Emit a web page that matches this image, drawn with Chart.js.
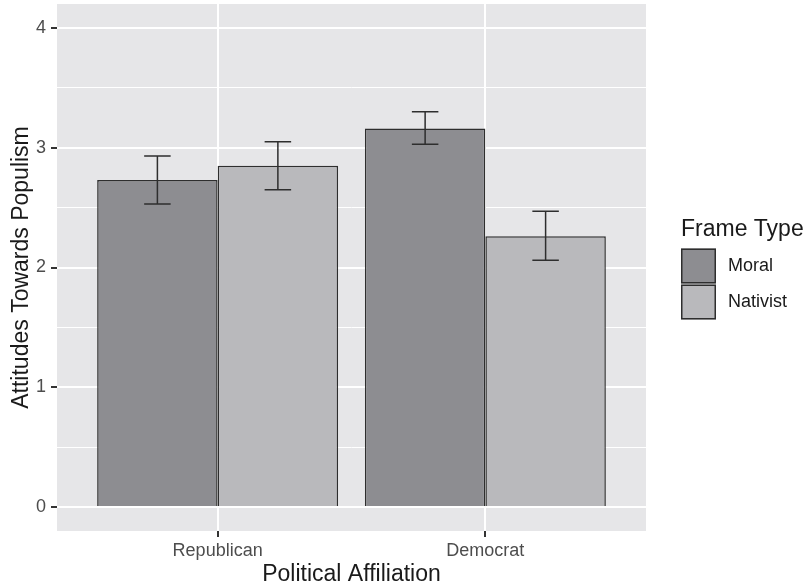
<!DOCTYPE html>
<html>
<head>
<meta charset="utf-8">
<script src="https://cdn.jsdelivr.net/npm/chart.js@4.4.0/dist/chart.umd.min.js"></script>
<style>
  html, body { margin: 0; padding: 0; background: #fff; }
  #wrap { width: 806px; height: 586px; }
</style>
</head>
<body>
<div id="wrap"><canvas id="barChart" width="806" height="586"></canvas></div>
<script>
// Data
const categories = ['Republican', 'Democrat'];
const frameTypes = ['Moral', 'Nativist'];
const moralMeans = [2.73, 3.16];
const moralLower = [2.53, 3.03];
const moralUpper = [2.93, 3.30];
const nativistMeans = [2.85, 2.26];
const nativistLower = [2.65, 2.06];
const nativistUpper = [3.05, 2.47];
const yTicks = [0, 0.5, 1, 1.5, 2, 2.5, 3, 3.5, 4];

const FONT = '"Liberation Sans", Arial, Helvetica, sans-serif';
const panelBg = '#E6E6E8';
const fills = ['#8D8D91', '#B9B9BC'];
const edge = '#2E2E2E';

const toPoints = arr => arr.map((v, i) => ({ x: i + 1, y: v }));

// grey ggplot panel behind the grid
const panelPlugin = {
  id: 'panel',
  beforeDraw(chart) {
    const { ctx, chartArea: a } = chart;
    ctx.save();
    ctx.fillStyle = panelBg;
    ctx.fillRect(a.left, a.top, a.right - a.left, a.bottom - a.top);
    ctx.restore();
  }
};

// error bars from the lower/upper arrays
const errorBarPlugin = {
  id: 'errorBars',
  afterDatasetsDraw(chart) {
    const { ctx } = chart;
    const yScale = chart.scales.y;
    ctx.save();
    ctx.strokeStyle = edge;
    ctx.lineWidth = 1.5;
    chart.data.datasets.forEach((ds, di) => {
      const meta = chart.getDatasetMeta(di);
      meta.data.forEach((bar, i) => {
        const top = yScale.getPixelForValue(ds.upper[i]);
        const bot = yScale.getPixelForValue(ds.lower[i]);
        const half = bar.width * 0.11;
        ctx.beginPath();
        ctx.moveTo(bar.x, top); ctx.lineTo(bar.x, bot);
        ctx.moveTo(bar.x - half, top); ctx.lineTo(bar.x + half, top);
        ctx.moveTo(bar.x - half, bot); ctx.lineTo(bar.x + half, bot);
        ctx.stroke();
      });
    });
    ctx.restore();
  }
};

// ggplot-like legend on the right
const legendPlugin = {
  id: 'ggLegend',
  afterDraw(chart) {
    const { ctx, chartArea: a } = chart;
    const x0 = a.right + 35;
    const mid = (a.top + a.bottom) / 2;
    ctx.save();
    ctx.fillStyle = '#1A1A1A';
    ctx.font = '23px ' + FONT;
    ctx.textBaseline = 'alphabetic';
    ctx.textAlign = 'left';
    ctx.fillText('Frame Type', x0, mid - 32);
    chart.data.datasets.forEach((ds, i) => {
      const top = mid - 19 + i * 36;
      ctx.fillStyle = ds.backgroundColor;
      ctx.fillRect(x0, top, 35, 35);
      ctx.strokeStyle = edge;
      ctx.lineWidth = 1.5;
      ctx.strokeRect(x0 + 0.75, top + 0.75, 33.5, 33.5);
      ctx.fillStyle = '#1A1A1A';
      ctx.font = '18px ' + FONT;
      ctx.textBaseline = 'middle';
      ctx.fillText(ds.label, x0 + 47, top + 18);
    });
    ctx.restore();
  }
};

new Chart(document.getElementById('barChart'), {
  type: 'bar',
  data: {
    datasets: [
      {
        label: frameTypes[0],
        data: toPoints(moralMeans),
        lower: moralLower,
        upper: moralUpper,
        backgroundColor: fills[0],
        borderColor: edge,
        borderWidth: 1.5
      },
      {
        label: frameTypes[1],
        data: toPoints(nativistMeans),
        lower: nativistLower,
        upper: nativistUpper,
        backgroundColor: fills[1],
        borderColor: edge,
        borderWidth: 1.5
      }
    ]
  },
  options: {
    responsive: false,
    animation: false,
    devicePixelRatio: 1,
    categoryPercentage: 0.9,
    barPercentage: 1.0,
    layout: { padding: { top: 4, right: 160, bottom: 0, left: 0 } },
    plugins: {
      legend: { display: false },
      tooltip: { enabled: false }
    },
    scales: {
      x: {
        type: 'linear',
        min: 0.4,
        max: 2.6,
        offset: false,
        afterBuildTicks: scale => {
          scale.ticks = categories.map((c, i) => ({ value: i + 1 }));
        },
        afterFit: scale => {
          scale.height = 55;
          scale.paddingLeft = 0;
          scale.paddingRight = 0;
        },
        grid: {
          offset: false,
          color: '#FFFFFF',
          lineWidth: 2,
          tickColor: '#333333',
          tickLength: 6
        },
        border: { display: false },
        ticks: {
          padding: 3,
          color: '#4D4D4D',
          font: { family: FONT, size: 18 },
          callback: value => categories[value - 1] || ''
        },
        title: {
          display: true,
          text: 'Political Affiliation',
          color: '#1A1A1A',
          font: { family: FONT, size: 23, lineHeight: 1.0 },
          padding: { top: 0, bottom: 0 }
        }
      },
      y: {
        min: -0.2,
        max: 4.2,
        afterBuildTicks: scale => {
          scale.ticks = yTicks.map(v => ({ value: v }));
        },
        afterFit: scale => {
          scale.width = 57;
          scale.paddingTop = 0;
          scale.paddingBottom = 0;
        },
        grid: {
          color: '#FFFFFF',
          lineWidth: ctx => (ctx.tick && Number.isInteger(ctx.tick.value)) ? 2 : 1,
          tickColor: ctx => (ctx.tick && Number.isInteger(ctx.tick.value)) ? '#333333' : 'rgba(0,0,0,0)',
          tickLength: 6
        },
        border: { display: false },
        ticks: {
          padding: 5,
          color: '#4D4D4D',
          font: { family: FONT, size: 18 },
          callback: value => Number.isInteger(value) ? String(value) : ''
        },
        title: {
          display: true,
          text: 'Attitudes Towards Populism',
          color: '#1A1A1A',
          font: { family: FONT, size: 23, lineHeight: 1.0 },
          padding: { top: 10, bottom: 0 }
        }
      }
    }
  },
  plugins: [panelPlugin, errorBarPlugin, legendPlugin]
});
</script>
</body>
</html>
